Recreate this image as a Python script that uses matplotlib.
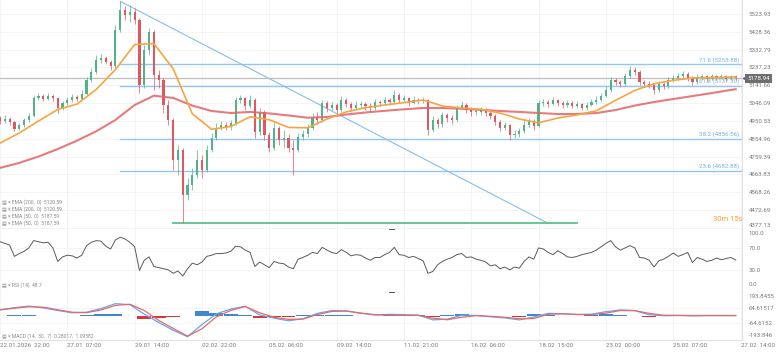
import numpy as np
import matplotlib.pyplot as plt
from matplotlib.lines import Line2D
from matplotlib.transforms import blended_transform_factory

plt.rcParams['font.family'] = ['Roboto', 'DejaVu Sans']

# --- candle data (open = previous close) ---
first_open = 4966
close = [4950, 4961, 4945, 4908, 4929, 4956, 4977, 5074, 5084, 5068,
         5084, 5074, 5020, 5047, 5063, 5079, 5068, 5095, 5170, 5213,
         5277, 5288, 5266, 5245, 5438, 5545, 5518, 5534, 5492, 5143,
         5331, 5427, 5197, 5170, 5036, 4956, 4741, 4795, 4554, 4608,
         4661, 4741, 4688, 4795, 4859, 4913, 4929, 4918, 4940, 5063,
         5074, 5031, 5063, 4891, 4999, 4875, 4806, 4913, 4849, 4859,
         4806, 4795, 4865, 4881, 4913, 4966, 4956, 5047, 5020, 5036,
         5009, 5063, 5041, 5020, 5036, 5041, 5031, 5020, 5052, 5047,
         5063, 5052, 5090, 5063, 5074, 5047, 5063, 5058, 5063, 4902,
         4956, 4934, 4983, 4966, 4956, 5020, 5036, 5009, 4999, 4999,
         5009, 4993, 4977, 4945, 4913, 4929, 4875, 4881, 4897, 4929,
         4950, 4924, 5047, 5052, 5041, 5063, 5047, 5036, 5047, 5031,
         5041, 5020, 5036, 5052, 5063, 5084, 5117, 5170, 5159, 5149,
         5192, 5224, 5213, 5159, 5149, 5143, 5117, 5149, 5138, 5170,
         5181, 5192, 5202, 5181, 5159, 5186, 5192, 5175, 5192, 5181,
         5192, 5175, 5186, 5178.94]
high = [4977, 4982, 4972, 4950, 4940, 4966, 4993, 5090, 5100, 5095,
        5100, 5095, 5079, 5058, 5079, 5095, 5090, 5117, 5186, 5234,
        5304, 5309, 5299, 5277, 5465, 5591.73, 5567, 5572, 5556, 5502,
        5358, 5449, 5438, 5224, 5181, 5063, 4966, 4822, 4806, 4645,
        4699, 4795, 4768, 4822, 4886, 4940, 4950, 4945, 4956, 5079,
        5090, 5079, 5090, 5074, 5020, 5009, 4891, 4945, 4924, 4902,
        4881, 4849, 4886, 4902, 4934, 4993, 4999, 5063, 5058, 5052,
        5047, 5084, 5074, 5052, 5058, 5058, 5052, 5047, 5068, 5063,
        5079, 5074, 5117, 5100, 5090, 5079, 5084, 5074, 5079, 5068,
        4977, 4966, 4999, 4993, 4983, 5036, 5058, 5047, 5025, 5020,
        5025, 5020, 5009, 4988, 4956, 4945, 4934, 4902, 4913, 4956,
        4966, 4961, 5063, 5068, 5063, 5079, 5068, 5058, 5063, 5058,
        5058, 5047, 5052, 5068, 5084, 5100, 5138, 5186, 5181, 5170,
        5208, 5245, 5240, 5224, 5170, 5165, 5154, 5165, 5159, 5186,
        5197, 5208, 5218, 5213, 5192, 5202, 5202, 5197, 5202, 5197,
        5202, 5197, 5197, 5197]
low = [4934, 4940, 4929, 4897, 4902, 4918, 4945, 4972, 5063, 5058,
       5063, 5058, 4993, 5009, 5036, 5052, 5058, 5063, 5090, 5159,
       5202, 5261, 5256, 5224, 5234, 5427, 5492, 5481, 5470, 5100,
       5127, 5304, 5117, 5127, 4993, 4929, 4688, 4661, 4402.14, 4527,
       4581, 4645, 4645, 4677, 4784, 4849, 4902, 4902, 4902, 4929,
       5047, 5009, 5020, 4859, 4875, 4849, 4784, 4795, 4822, 4806,
       4784, 4661, 4784, 4849, 4865, 4902, 4934, 4945, 4999, 5009,
       4993, 4999, 5025, 4999, 5009, 5020, 5009, 4999, 5009, 5031,
       5036, 5036, 5041, 5047, 5052, 5031, 5041, 5041, 5047, 4875,
       4891, 4913, 4918, 4945, 4934, 4945, 5009, 4993, 4977, 4983,
       4983, 4977, 4961, 4929, 4897, 4902, 4849, 4859, 4865, 4886,
       4918, 4902, 4918, 5031, 5025, 5036, 5031, 5020, 5025, 5020,
       5020, 5009, 5009, 5031, 5041, 5058, 5079, 5106, 5143, 5132,
       5138, 5181, 5197, 5143, 5132, 5127, 5095, 5106, 5122, 5127,
       5159, 5170, 5181, 5165, 5143, 5149, 5170, 5159, 5170, 5170,
       5175, 5165, 5170, 5170]

# EMA lines, read every 4th candle plus the last one
ema50 = [4832, 4886, 4950, 5012, 5041, 5119, 5226, 5360, 5365, 5231,
         4989, 4906, 4921, 4973, 4957, 4916, 4914, 4961, 4999, 5022,
         5036, 5049, 5063, 5031, 5020, 5013, 4993, 4961, 4941, 4966,
         4983, 5005, 5061, 5114, 5150, 5168, 5181, 5183, 5186, 5187.59]
ema200 = [4699, 4726, 4760, 4800, 4845, 4895, 4956, 5036, 5086, 5074,
          5033, 5004, 4993, 4999, 4991, 4980, 4968, 4972, 4985, 4996,
          5005, 5013, 5020, 5020, 5016, 5010, 5004, 4999, 4993, 4988,
          4988, 4993, 5009, 5033, 5052, 5068, 5084, 5100, 5117, 5120.59]

# RSI(14) per candle
rsi = [81, 78, 75, 55, 60, 64, 70, 83, 81, 79,
       80, 70, 46, 54, 57, 56, 52, 57, 74, 80,
       83, 82, 73, 68, 84, 89, 86, 80, 72, 30,
       48, 54, 37, 35, 33, 31, 25, 29, 20, 33,
       43, 40, 45, 55, 57, 60, 60, 61, 64, 73,
       72, 66, 62, 37, 45, 40, 35, 46, 43, 42,
       36, 33, 50, 53, 57, 62, 60, 71, 66, 62,
       60, 67, 62, 56, 58, 57, 52, 48, 53, 53,
       58, 62, 71, 58, 57, 53, 55, 51, 47, 25,
       28, 40, 46, 50, 53, 58, 60, 53, 54, 50,
       48, 45, 38, 40, 33, 36, 31, 36, 34, 46,
       54, 50, 70, 68, 62, 58, 65, 60, 54, 53,
       55, 58, 60, 62, 66, 72, 78, 83, 72, 66,
       70, 74, 70, 53, 52, 48, 36, 47, 50, 55,
       61, 55, 58, 62, 44, 53, 50, 46, 48, 52,
       49, 51, 53, 48.7]

# MACD(14, 30, 7), read every 3rd candle
macd = [51, 70, 84, 68, 45, 25, 30, 62, 105, 96,
        14, -60, -128, -184, -78, 16, 58, 82, 6, -22,
        -45, -27, 20, 45, 42, 22, 6, 12, 9, 5,
        -37, -31, 3, 2, -10, -20, -37, -12, 20, 17,
        10, 12, 35, 50, 44, 8, -1, 1, -2, 1, 0.5, 0.28017]
signal = [51, 65, 78, 74, 52, 30, 26, 50, 90, 100,
          45, -42, -112, -180, -115, -10, 46, 80, 25, -14,
          -33, -30, 10, 37, 40, 22, 8, 6, 3, 2,
          -22, -36, -14, 0, -6, -14, -28, -25, 12, 16,
          10, 10, 22, 45, 44, 20, 4, 3, 1, 1, 1.2, 1.09582]

# fibonacci retracement drawn on the chart
fib_ratio = [71.6, 61.8, 38.2, 23.6]
fib_level = [5253.88, 5137.30, 4856.56, 4682.88]
trend_end = 114      # candle where the trend line meets the 0 level
zero_line_end = 120

price_ticks = [5523.93, 5428.36, 5332.79, 5237.23, 5141.66, 5046.09, 4950.53,
               4854.96, 4759.39, 4663.83, 4568.26, 4472.69, 4377.13]
rsi_ticks = [100.0, 70.0, 30.0, 0.0]
macd_ticks = [193.8455, 64.61517, -64.61517, -193.846]
macd_tick_labels = ['193.8455', '64.61517', '-64.6152', '-193.846']
date_labels = ['22.01.2026  22:00', '27.01  07:00', '29.01  14:00', '02.02  22:00',
               '05.02  06:00', '09.02  14:00', '11.02  21:00', '16.02  06:00',
               '18.02  15:00', '23.02  00:00', '25.02  07:00', '27.02  14:00']
last_price = close[-1]

close = np.array(close, float)
high = np.array(high, float)
low = np.array(low, float)
N = len(close)
idx = np.arange(N)
opens = np.r_[first_open, close[:-1]]
high = np.maximum(high, np.maximum(opens, close))
low = np.minimum(low, np.minimum(opens, close))

GREEN = '#52b389'
RED = '#e2575f'
GRID = '#f2f2f2'
EDGE = '#e2e2e2'
TXT = '#7a7a7a'
FS = 4.4

fig = plt.figure(figsize=(7.78, 3.57), dpi=100)
W = 741.5 / 778
ax = fig.add_axes([0, 128 / 357, W, 229 / 357])
ax_r = fig.add_axes([0, 65.3 / 357, W, 62.7 / 357])
ax_m = fig.add_axes([0, 17 / 357, W, 48.3 / 357])

xmax = 154.2
date_pos = np.arange(0, 14 * len(date_labels), 14)

for a in (ax, ax_r, ax_m):
    a.set_xlim(0, xmax)
    a.yaxis.tick_right()
    a.tick_params(axis='y', length=0, pad=5, labelsize=FS, labelcolor=TXT)
    a.tick_params(axis='x', length=0)
    for s in ('left', 'top'):
        a.spines[s].set_visible(False)
    for s in ('right', 'bottom'):
        a.spines[s].set_color(EDGE)
        a.spines[s].set_linewidth(0.8)
    for d in date_pos:
        a.axvline(d, color=GRID, lw=0.6, zorder=0)

# ---- main price panel ----
ax.set_ylim(4371.7, 5598.7)
ax.set_yticks(price_ticks, [f'{v:.2f}' for v in price_ticks])
ax.get_yticklabels()[-1].set_va('bottom')
ax.set_xticks([])
for v in price_ticks:
    ax.axhline(v, color=GRID, lw=0.6, zorder=0)

col = np.where(close >= opens, GREEN, RED)
ax.vlines(idx, low, high, colors=col, lw=0.5, zorder=3)
body = np.maximum(np.abs(close - opens), 3)
ax.bar(idx, body, bottom=np.minimum(opens, close), width=0.45, color=col, zorder=3)

ema_x = np.r_[np.arange(0, N, 4), N - 1]
ax.plot(ema_x, ema200, color='#e36464', lw=1.5, alpha=0.85, zorder=4)
ax.plot(ema_x, ema50, color='#f6a543', lw=1.2, zorder=5)

i_hi = int(np.argmax(high))
i_lo = int(np.argmin(low))
for r, lv in zip(fib_ratio, fib_level):
    ax.plot([i_hi, 154], [lv, lv], color='#93c6f2', lw=1.0, zorder=2)
    ax.annotate(f'{r} ({lv:.2f})', xy=(154, lv), xytext=(-1, 1.2),
                textcoords='offset points', ha='right', va='bottom',
                fontsize=FS, color='#6fb0ea', zorder=6)
ax.plot([i_hi, trend_end], [high[i_hi], low[i_lo]], color='#86bdf0', lw=0.8, zorder=2)
ax.plot([i_lo - 2, zero_line_end], [low[i_lo], low[i_lo]], color='#5cc08e', lw=1.3, zorder=2)

ax.axhline(last_price, color='#bdbdbd', lw=0.9, zorder=2)
tr = blended_transform_factory(ax.transAxes, ax.transData)
ax.text(1.0075, last_price, f'{last_price:.2f}', transform=tr, ha='left', va='center',
        fontsize=FS, color='white', clip_on=False, zorder=10,
        bbox=dict(boxstyle='square,pad=0.35', fc='#6e6e6e', ec='none'))
ax.plot([1.0045], [last_price], marker='<', ms=3.2, color='#6e6e6e', transform=tr,
        clip_on=False, zorder=10)

leg = ['EMA (200,  0)  5120.59', 'EMA (200,  0)  5120.59',
       'EMA (50,  0)  5187.59', 'EMA (50,  0)  5187.59']
for k, t in enumerate(leg):
    ax.text(0.003, (229 - 202.3 - 6.8 * k) / 229, '▤ × ' + t, transform=ax.transAxes,
            fontsize=3.6, color='#8a8a8a', va='center', ha='left')
ax.text(1.002, (229 - 219) / 229, '30m 15s', transform=ax.transAxes, ha='right',
        va='center', fontsize=5.5, color='#f5a033', clip_on=False)

# ---- RSI panel ----
ax_r.set_ylim(-7.8, 103.6)
ax_r.set_yticks(rsi_ticks, [f'{v:.1f}' for v in rsi_ticks])
ax_r.get_yticklabels()[0].set_va('top')
ax_r.get_yticklabels()[-1].set_va('bottom')
ax_r.set_xticks([])
for v in (70, 30):
    ax_r.axhline(v, color=GRID, lw=0.6, zorder=0)
ax_r.plot(idx, rsi, color='#5a5a5a', lw=0.7)
ax_r.text(0.003, 0.1, '▤ × RSI (14)  48.7', transform=ax_r.transAxes,
          fontsize=3.6, color='#8a8a8a', va='center', ha='left')

# ---- MACD panel ----
ax_m.set_ylim(-213.2, 209.7)
ax_m.set_yticks(macd_ticks, macd_tick_labels)
ax_m.get_yticklabels()[0].set_va('top')
ax_m.get_yticklabels()[-1].set_va('bottom')
for v in macd_ticks[1:3]:
    ax_m.axhline(v, color=GRID, lw=0.6, zorder=0)
m_x = np.arange(0, N, 3)
macd = np.array(macd)
signal = np.array(signal)
hist = macd - signal
ax_m.bar(m_x, hist, width=2.9, color=np.where(hist >= 0, '#3f86d4', '#d9363a'), zorder=2)
ax_m.plot(m_x, macd, color='#62a9ef', lw=0.9, zorder=3)
ax_m.plot(m_x, signal, color='#e86868', lw=0.9, zorder=3)
ax_m.text(0.003, 0.08, '▤ × MACD (14,  30,  7)  0.28017,  1.09582', transform=ax_m.transAxes,
          fontsize=3.6, color='#8a8a8a', va='center', ha='left')
ax_m.set_xticks(date_pos, date_labels)
ax_m.tick_params(axis='x', labelsize=FS, labelcolor=TXT, pad=2.2)
for lbl in ax_m.get_xticklabels():
    lbl.set_ha('left')

# pane resize handles
for yy in (229.3, 291.7):
    fig.add_artist(Line2D([388.5 / 778, 394 / 778], [1 - yy / 357] * 2, color='#555555', lw=0.7))

fig.savefig('out.png', dpi=100)
